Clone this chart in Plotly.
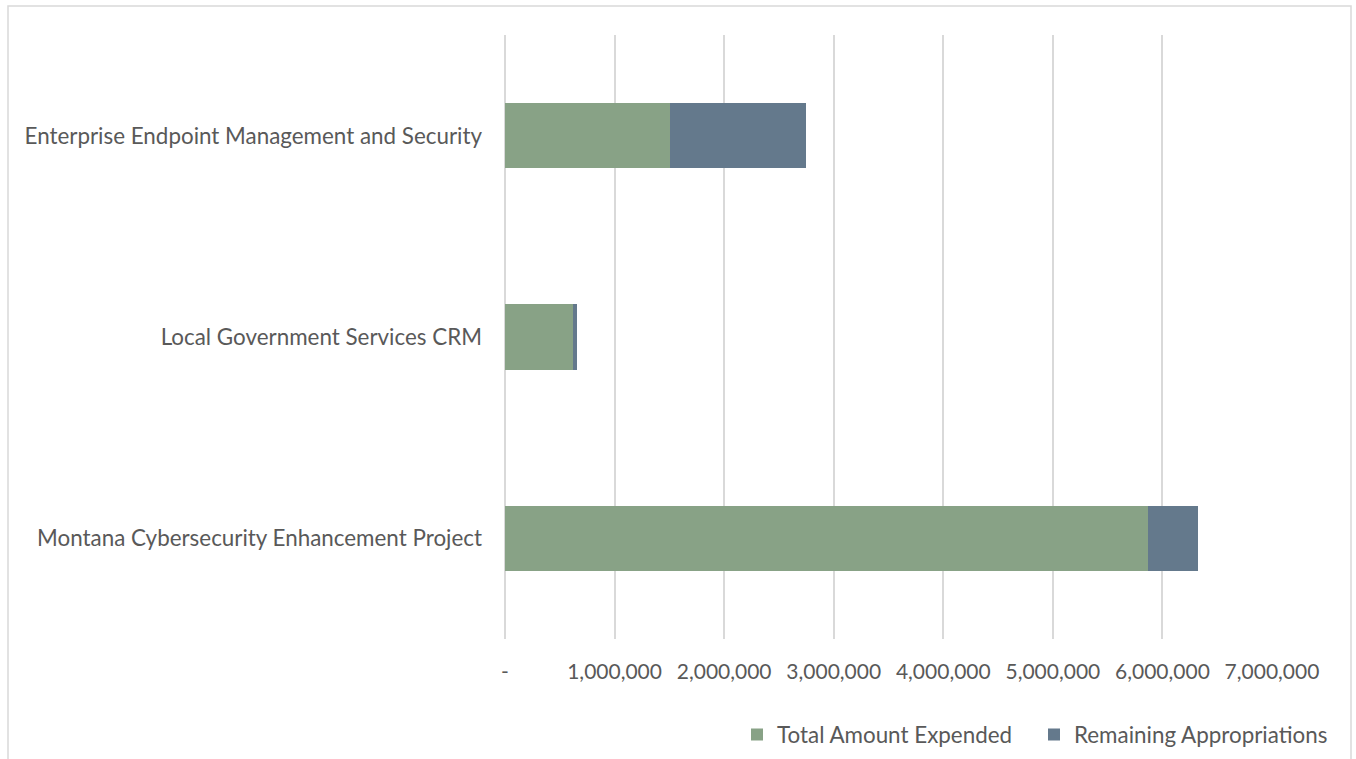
import plotly.graph_objects as go

categories = ["Enterprise Endpoint Management and Security",
              "Local Government Services CRM",
              "Montana Cybersecurity Enhancement Project"]
total_expended = [1510000, 619000, 5867000]
remaining_appropriations = [1239000, 36000, 460000]
tick_values = [0, 1000000, 2000000, 3000000, 4000000, 5000000, 6000000, 7000000]
tick_labels = ["-", "1,000,000", "2,000,000", "3,000,000", "4,000,000",
               "5,000,000", "6,000,000", "7,000,000"]

FONT = "Lato"
TXT = "#595959"

fig = go.Figure()
fig.add_trace(go.Bar(y=categories, x=total_expended, orientation="h",
                     name="Total Amount Expended", marker=dict(color="#88a286", line=dict(width=0)),
                     width=0.325))
fig.add_trace(go.Bar(y=categories, x=remaining_appropriations, orientation="h",
                     name="Remaining Appropriations", marker=dict(color="#64798c", line=dict(width=0)),
                     width=0.325))

W, H = 1356, 759
L, T = 505, 35
plot_right, plot_bottom = 1272, 639
R = W - plot_right
B = H - plot_bottom
pw = W - L - R
ph = H - T - B

def px_x(x):
    return (x - L) / pw

def px_y(y):
    return (plot_bottom - y) / ph

fig.update_layout(
    barmode="stack",
    width=W, height=H,
    margin=dict(l=L, r=R, t=T, b=B, autoexpand=False),
    paper_bgcolor="white", plot_bgcolor="white",
    font=dict(family=FONT, color=TXT, size=22),
    showlegend=True,
    legend=dict(orientation="h", xref="container", yref="container",
                x=737 / W, xanchor="left",
                y=1 - 735 / H, yanchor="middle",
                font=dict(size=22.4, color=TXT), traceorder="normal",
                itemwidth=30, entrywidth=252, entrywidthmode="pixels",
                bgcolor="rgba(0,0,0,0)"),
    xaxis=dict(range=[0, 7000000], tickvals=tick_values, ticktext=tick_labels,
               automargin=False,
               showgrid=True, gridcolor="#d9d9d9", gridwidth=1.5,
               zeroline=True, zerolinecolor="#d9d9d9", zerolinewidth=1.5,
               showline=False, ticks="",
               ticklabelstandoff=18, tickfont=dict(size=21, color=TXT)),
    yaxis=dict(autorange="reversed", automargin=False,
               showgrid=False, zeroline=False, showline=False,
               ticks="", ticklabelstandoff=22, tickfont=dict(size=22.4, color=TXT)),
    shapes=[dict(type="rect", xref="paper", yref="paper",
                 x0=px_x(8), x1=px_x(1351),
                 y0=px_y(800), y1=px_y(6),
                 line=dict(color="#d9d9d9", width=1.5), fillcolor="rgba(0,0,0,0)",
                 layer="below")],
)

fig.write_html("out.html", config={"displayModeBar": False},
               post_script="document.body.style.margin='0';document.body.style.overflow='hidden';")
